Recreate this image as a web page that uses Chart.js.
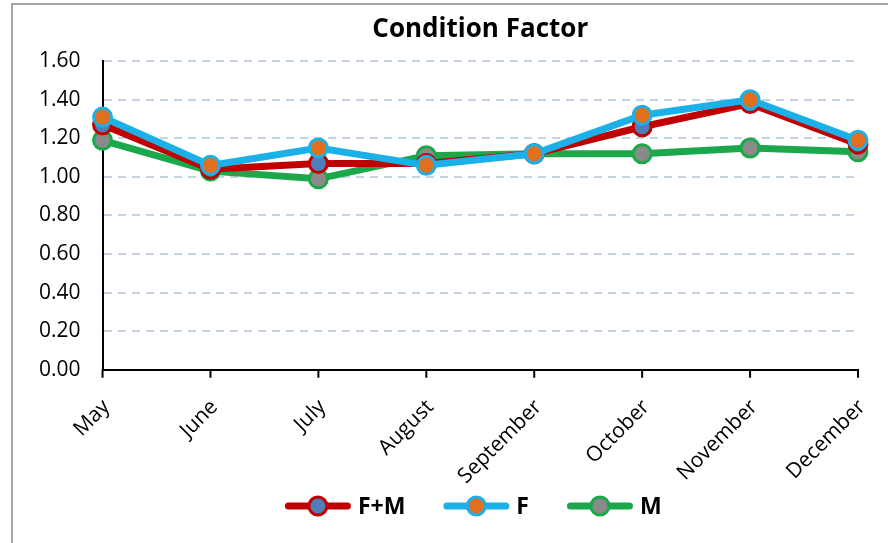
<!DOCTYPE html>
<html>
<head>
<meta charset="utf-8">
<script src="https://cdn.jsdelivr.net/npm/chart.js@4"></script>
<style>
  html, body { margin: 0; padding: 0; background: #fff; }
  #frame {
    position: absolute; left: 11px; top: 3px;
    width: 877px; height: 540px;
    border-left: 2px solid #a6a6a6; border-top: 2px solid #a6a6a6;
    box-sizing: border-box;
  }
  #wrap { position: absolute; left: 0; top: 0; width: 888px; height: 543px; }
</style>
</head>
<body>
<div id="frame"></div>
<div id="wrap"><canvas id="cf"></canvas></div>
<script>
let months = ['May', 'June', 'July', 'August', 'September', 'October', 'November', 'December'];

let fmValues = [1.27, 1.04, 1.07, 1.07, 1.12, 1.26, 1.38, 1.17];
let fValues  = [1.31, 1.06, 1.15, 1.06, 1.12, 1.32, 1.40, 1.19];
let mValues  = [1.19, 1.03, 0.99, 1.11, 1.12, 1.12, 1.15, 1.13];

let seriesNames = ['F+M', 'F', 'M'];
let lineColors = ['#c00000', '#1cb0e8', '#1aa84b'];
let dotColors = ['#4f7fb8', '#e0701e', '#8a8a8a'];

function makeSet(i, values) {
    return {
        label: seriesNames[i],
        data: values,
        borderColor: lineColors[i],
        borderWidth: 7,
        pointRadius: 9,
        pointHoverRadius: 9,
        pointBackgroundColor: dotColors[i],
        pointBorderColor: lineColors[i],
        pointBorderWidth: 3,
        tension: 0,
        fill: false
    };
}

const data = {
    labels: months,
    datasets: [makeSet(1, fValues), makeSet(0, fmValues), makeSet(2, mValues)]
};

// legend below the axis labels: line + dot symbol, then bold name
const lineLegend = {
    id: 'lineLegend',
    afterDraw(chart) {
        const g = chart.ctx;
        const font = 'bold 23px "Open Sans"';
        const iconW = 66, gapIn = 7, gapOut = 38;
        g.save();
        g.font = font;
        const widths = seriesNames.map(n => iconW + gapIn + g.measureText(n).width);
        const total = widths.reduce((a, b) => a + b, 0) + gapOut * (seriesNames.length - 1);
        const ca = chart.chartArea;
        let x = (ca.left + ca.right) / 2 - 7 - total / 2;
        const y = 506;
        seriesNames.forEach((n, k) => {
            g.lineCap = 'round';
            g.strokeStyle = lineColors[k];
            g.lineWidth = 7;
            g.beginPath(); g.moveTo(x + 3.5, y); g.lineTo(x + iconW - 3.5, y); g.stroke();
            g.beginPath(); g.arc(x + iconW / 2, y, 9, 0, Math.PI * 2);
            g.fillStyle = dotColors[k]; g.fill();
            g.lineWidth = 3; g.stroke();
            g.fillStyle = '#000';
            g.textBaseline = 'middle';
            g.textAlign = 'left';
            g.fillText(n, x + iconW + gapIn, y + 1);
            x += widths[k] + gapOut;
        });
        g.restore();
    }
};

// draw the x axis tick marks in black under the axis line
const xTicks = {
    id: 'xTicks',
    afterDraw(chart) {
        const xs = chart.scales.x, g = chart.ctx, y0 = chart.chartArea.bottom;
        g.save();
        g.strokeStyle = '#000';
        g.lineWidth = 2;
        xs.ticks.forEach((t, i) => {
            const x = xs.getPixelForTick(i);
            g.beginPath(); g.moveTo(x, y0); g.lineTo(x, y0 + 8); g.stroke();
        });
        g.restore();
    }
};

const config = {
    type: 'line',
    data: data,
    options: {
        responsive: false,
        animation: false,
        devicePixelRatio: 1,
        layout: { padding: { left: 17, right: 30, top: 8, bottom: 37 } },
        plugins: {
            title: {
                display: true,
                fullSize: false,
                text: 'Condition Factor',
                color: '#000',
                font: { family: 'Open Sans', size: 26, weight: 'bold' },
                padding: { top: 6, bottom: 16 }
            },
            legend: { display: false },
            tooltip: { enabled: false }
        },
        scales: {
            x: {
                offset: false,
                afterFit: (s) => { s.paddingRight = 0; },
                grid: { display: false, tickLength: 8 },
                border: { color: '#000', width: 2 },
                ticks: {
                    color: '#000',
                    maxRotation: 45,
                    minRotation: 45,
                    padding: 17,
                    labelOffset: 4,
                    font: { family: 'Open Sans', size: 21 }
                }
            },
            y: {
                min: 0,
                max: 1.6,
                grid: {
                    color: (c) => c.tick.value === 0 ? 'rgba(0,0,0,0)' : '#c5d3e3',
                    lineWidth: 2,
                    drawTicks: false
                },
                border: { color: '#000', width: 2, dash: [8, 6] },
                ticks: {
                    stepSize: 0.2,
                    padding: 22,
                    color: '#000',
                    font: { family: 'Open Sans', size: 21 },
                    callback: (v) => v.toFixed(2)
                }
            }
        }
    },
    plugins: [xTicks, lineLegend]
};

const c = document.getElementById('cf');
c.width = 888; c.height = 543;
const chart = new Chart(c, config);
</script>
</body>
</html>
